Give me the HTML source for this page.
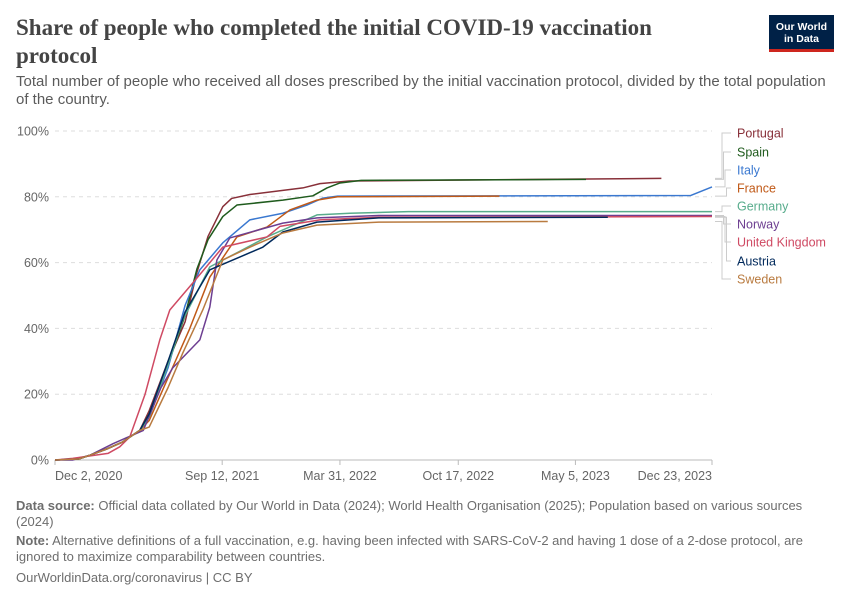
<!DOCTYPE html>
<html><head><meta charset="utf-8">
<style>
body{margin:0;background:#fff;width:850px;height:600px;overflow:hidden;font-family:"Liberation Sans",sans-serif}
.title{position:absolute;left:16px;top:14px;width:700px;font-family:"Liberation Serif",serif;font-weight:bold;font-size:23px;line-height:28px;color:#444}
.sub{position:absolute;left:16px;top:73px;width:825px;font-size:15px;line-height:18px;color:#5b5b5b}
.foot{position:absolute;left:16px;font-size:13px;line-height:15.5px;color:#6e6e6e;width:795px}
.logo{position:absolute;left:769px;top:15px;width:65px;height:37px;background:#002147;color:#fff;font-size:10.5px;line-height:12px;text-align:center;font-weight:bold}
.logo:after{content:"";position:absolute;left:0;bottom:0;width:100%;height:3px;background:#ce261e}
</style></head><body>
<div class="title">Share of people who completed the initial COVID-19 vaccination protocol</div>
<div class="sub">Total number of people who received all doses prescribed by the initial vaccination protocol, divided by the total population of the country.</div>
<div class="logo"><div style="padding-top:6px">Our World<br>in Data</div></div>
<svg id="chart" width="850" height="600" style="position:absolute;left:0;top:0"></svg>
<div class="foot" style="top:498px"><b>Data source:</b> Official data collated by Our World in Data (2024); World Health Organisation (2025); Population based on various sources (2024)</div>
<div class="foot" style="top:533px"><b>Note:</b> Alternative definitions of a full vaccination, e.g. having been infected with SARS-CoV-2 and having 1 dose of a 2-dose protocol, are ignored to maximize comparability between countries.</div>
<div class="foot" style="top:570px">OurWorldinData.org/coronavirus | CC BY</div>
<script>
const yTicks=[0,20,40,60,80,100];
const xTickDays=[0,284,484,685,884,1116];
const xTickLabels=["Dec 2, 2020","Sep 12, 2021","Mar 31, 2022","Oct 17, 2022","May 5, 2023","Dec 23, 2023"];
const countries=["Portugal","Spain","Italy","France","Germany","Norway","United Kingdom","Austria","Sweden"];
const colors=["#883039","#1f5b1d","#3a78d0","#c05917","#58ac8c","#6d3e91","#cf4a63","#00295b","#b97b40"];
const early=[[0,0],[40,0.3],[60,1.5],[90,3.5],[115,5.5],[144,9]];
const sPortugal=early.concat([[160,15],[192,30],[221,42],[241,57],[260,68],[285,77],[300,79.5],[331,80.7],[421,82.7],[450,84],[500,84.8],[1030,85.6]]);
const sSpain=early.concat([[160,14],[192,29],[221,44],[241,58],[260,67],[285,74],[309,77.5],[387,79],[438,80.3],[462,82.7],[484,84.2],[520,85],[902,85.3]]);
const sItaly=early.concat([[160,13],[192,28],[221,47],[246,57.8],[285,66],[331,73],[387,75],[428,77.5],[455,79.6],[480,80.2],[1080,80.4],[1116,83]]);
const sFrance=early.concat([[160,12],[192,25],[229,40],[263,55.6],[309,67.8],[360,70.8],[399,76],[445,79],[480,80],[755,80.2]]);
const sGermany=early.concat([[160,13],[192,29],[217,42.5],[263,58.7],[309,63],[360,67.8],[445,74.5],[501,75],[600,75.5],[1116,75.5]]);
const sNorway=[[0,0],[30,0],[60,1.5],[99,5],[150,9],[180,22],[200,28],[246,36.5],[263,46.5],[275,60.8],[297,67.5],[387,72],[445,73.6],[550,74.3],[1116,74.3]];
const sUK=[[0,0],[30,0.5],[90,2],[110,4],[127,7],[153,20],[178,36.5],[195,45.6],[234,53.8],[285,64.7],[360,67.8],[382,71],[450,73],[550,73.8],[1116,74]];
const sAustria=early.concat([[160,14],[192,30],[221,45],[263,57.8],[331,63],[353,64.7],[387,69.3],[445,72.3],[550,73.6],[939,73.8]]);
const sSweden=early.concat([[160,10],[192,22],[217,32.5],[251,45.6],[285,60.8],[331,64.7],[387,69],[445,71.4],[550,72.3],[837,72.5]]);
const series=[sPortugal,sSpain,sItaly,sFrance,sGermany,sNorway,sUK,sAustria,sSweden];
const labelY=[133,152,170,188,206,224,242,261,279];

const svg=document.getElementById('chart');const NS='http://www.w3.org/2000/svg';
const X0=55,X1=712,Y0=460,Y1=131,DMAX=1116;
const xs=d=>X0+(X1-X0)*d/DMAX, ys=v=>Y0-(Y0-Y1)*v/100;
function mk(t,a,p){const e=document.createElementNS(NS,t);for(const k in a)e.setAttribute(k,a[k]);(p||svg).appendChild(e);return e;}
yTicks.forEach(v=>{
 if(v>0){const g=mk('line',{x1:X0,x2:X1,y1:ys(v),y2:ys(v),stroke:'#ddd','stroke-dasharray':'4,4'});
 
 }
 const t=mk('text',{x:49,y:ys(v)+4.5,'text-anchor':'end','font-size':12.5,fill:'#666'});t.textContent=v+'%';
 
 
});
const ax=mk('line',{x1:X0,x2:X1,y1:Y0,y2:Y0,stroke:'#bbb'});


xTickDays.forEach((d,i)=>{
 mk('line',{x1:xs(d),x2:xs(d),y1:Y0,y2:Y0+5,stroke:'#bbb'});
 const anc=i==0?'start':(i==xTickDays.length-1?'end':'middle');
 const t=mk('text',{x:xs(d),y:Y0+20,'text-anchor':anc,'font-size':12.5,fill:'#666'});t.textContent=xTickLabels[i];
 
 
});
series.forEach((s,i)=>{
 const p=mk('polyline',{points:s.map(q=>xs(q[0])+','+ys(q[1])).join(' '),fill:'none',stroke:colors[i],'stroke-width':1.5,'stroke-linejoin':'round'});
 
 
 const last=s[s.length-1];
 const ey=ys(last[1]);const ly=labelY[i];const ex=722+(i%4)*1.5;
 mk('polyline',{points:`715,${ey} ${ex},${ey} ${ex},${ly} 731,${ly}`,fill:'none',stroke:'#ccc','stroke-width':1});
 const t=mk('text',{x:737,y:ly+4.5,'font-size':12.5,fill:colors[i]});t.textContent=countries[i];
 
 
});
</script>
</body></html>
